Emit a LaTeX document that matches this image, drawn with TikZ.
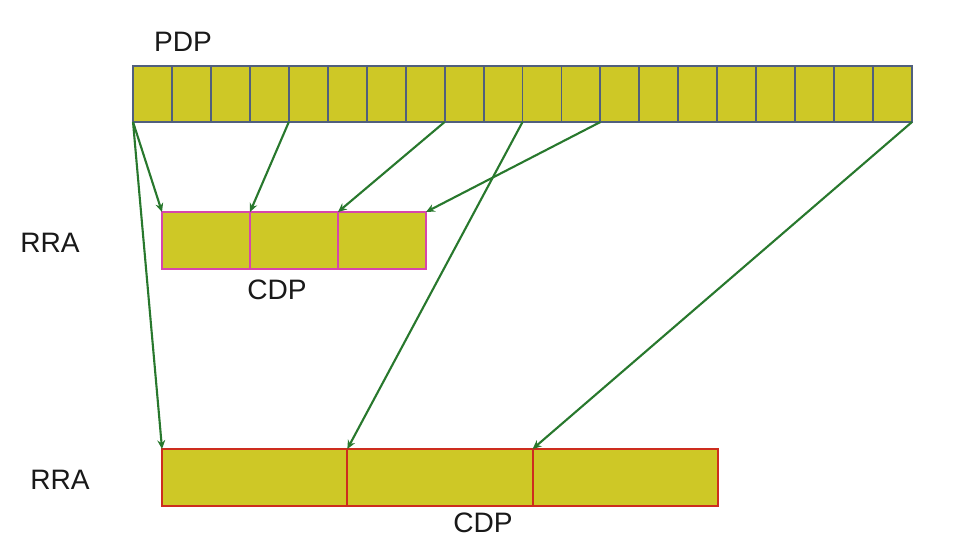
\documentclass[tikz,border=0pt]{standalone}
\usepackage{fontspec}
\setmainfont{Liberation Sans}
\usetikzlibrary{arrows.meta}
\definecolor{cellfill}{RGB}{206,200,38}
\definecolor{pdpline}{RGB}{80,95,125}
\definecolor{cdppink}{RGB}{215,70,170}
\definecolor{cdpred}{RGB}{205,45,30}
\definecolor{arrowgreen}{RGB}{40,120,45}
\definecolor{labelgray}{RGB}{25,25,25}

\begin{document}
\begin{tikzpicture}[x=0.02cm,y=-0.02cm,
  every node/.style={font=\fontsize{16}{18}\selectfont, text=labelgray},
  pdpcell/.style={draw=pdpline, fill=cellfill, line width=1.1pt, inner sep=0pt, outer sep=0pt,
                  minimum width=0.779cm, minimum height=1.12cm},
  smallcdp/.style={draw=cdppink, fill=cellfill, line width=1.3pt, inner sep=0pt, outer sep=0pt,
                   minimum width=1.76cm, minimum height=1.14cm},
  bigcdp/.style={draw=cdpred, fill=cellfill, line width=1.3pt, inner sep=0pt, outer sep=0pt,
                 minimum width=3.707cm, minimum height=1.14cm},
  maparrow/.style={-{Stealth[length=5pt,width=4.5pt]}, arrowgreen, line width=1.2pt}]

% Background / bounding box
\useasboundingbox (0,0) rectangle (958,560);

% Labels
\node (pdplabel) at (183,42) {PDP};
\node (rraone) at (50,243) {RRA};
\node (rratwo) at (60,480) {RRA};
\node (cdpone) at (277,290) {CDP};
\node (cdptwo) at (483,523) {CDP};

% PDP bar
\foreach \i in {0,...,19}
  \node[pdpcell] (p\i) at ({152.5+38.95*\i},94) {};

% Upper CDP
\node[smallcdp] (c1) at (206,240.5) {};
\node[smallcdp] (c2) at (294,240.5) {};
\node[smallcdp] (c3) at (382,240.5) {};

% Lower CDP
\node[bigcdp] (d1) at (254.7,477.5) {};
\node[bigcdp] (d2) at (440,477.5) {};
\node[bigcdp] (d3) at (625.3,477.5) {};

% Arrows to upper CDP
\draw[maparrow] (p0.south west) -- (c1.north west);
\draw[maparrow] (p4.south west) -- (c2.north west);
\draw[maparrow] (p8.south west) -- (c3.north west);
\draw[maparrow] (p12.south west) -- (c3.north east);

% Arrows to lower CDP
\draw[maparrow] (p0.south west) -- (d1.north west);
\draw[maparrow] (p10.south west) -- (d2.north west);
\draw[maparrow] (p19.south east) -- (d3.north west);

\end{tikzpicture}
\end{document}
